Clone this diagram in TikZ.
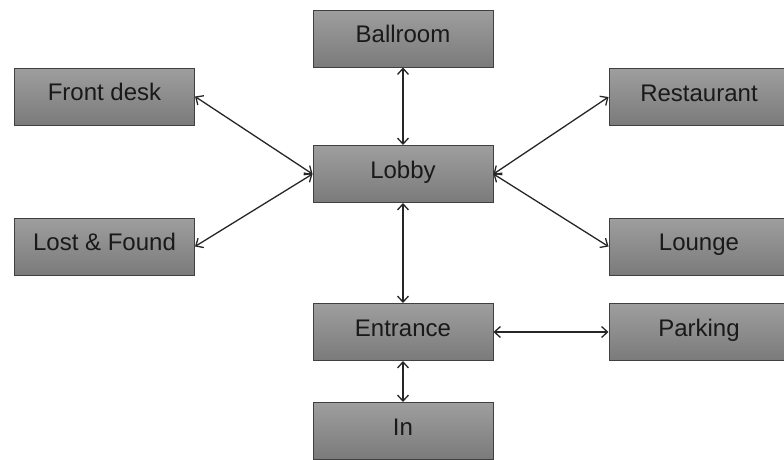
\documentclass[tikz,border=0pt]{standalone}
\usepackage{fontspec}
\setmainfont{Liberation Sans}
\usetikzlibrary{arrows.meta}

\tikzset{
  room/.style={draw=black!75, line width=1pt, top color=black!38, bottom color=black!52,
    minimum width=180pt, minimum height=57pt, inner sep=0pt,
    text height=20pt, text depth=12pt, text=black!90,
    font=\fontsize{24}{28}\selectfont},
  link/.style={draw=black!85, line width=1.3pt, {Straight Barb[length=6pt,width=11pt]}-{Straight Barb[length=6pt,width=11pt]}}
}

\begin{document}
\begin{tikzpicture}[x=1pt,y=1pt,yscale=-1,xscale=1]
\useasboundingbox (0,0) rectangle (784,459);

% Rooms
\node [room] (ballroom) at (403,38.5) {Ballroom};
\node [room] (lobby) at (403,174) {Lobby};
\node [room] (entrance) at (403,332) {Entrance};
\node [room] (in) at (403,431) {In};
\node [room] (frontdesk) at (104.5,96.5) {Front desk};
\node [room] (lostfound) at (104.5,246.5) {Lost \& Found};
\node [room] (restaurant) at (699,97) {Restaurant};
\node [room] (lounge) at (699,246.5) {Lounge};
\node [room] (parking) at (699,332) {Parking};

% Links
\draw [link] (ballroom) -- (lobby);
\draw [link] (lobby) -- (entrance);
\draw [link] (entrance) -- (in);
\draw [link] (entrance) -- (parking);
\draw [link] (lobby.west) -- (frontdesk.east);
\draw [link] (lobby.west) -- (lostfound.east);
\draw [link] (lobby.east) -- (restaurant.west);
\draw [link] (lobby.east) -- (lounge.west);

\end{tikzpicture}
\end{document}
